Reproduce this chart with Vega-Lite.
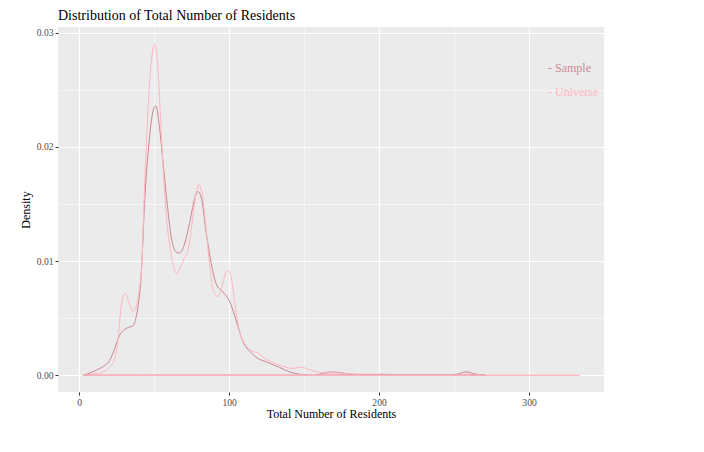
{
  "$schema": "https://vega.github.io/schema/vega-lite/v6.json",
  "width": 546,
  "height": 365,
  "autosize": {"type": "none"},
  "padding": {"left": 58, "top": 27, "right": 100, "bottom": 60},
  "background": "white",
  "title": {
    "text": "Distribution of Total Number of Residents",
    "anchor": "start",
    "frame": "group",
    "font": "Liberation Serif",
    "fontSize": 14,
    "fontWeight": "normal",
    "color": "#000000",
    "baseline": "bottom",
    "offset": -10
  },
  "data": {
    "values": [
      {"series": "Sample", "x": 2.5, "density": 0.0},
      {"series": "Sample", "x": 9.1, "density": 0.0003},
      {"series": "Sample", "x": 13.6, "density": 0.0006},
      {"series": "Sample", "x": 16.5, "density": 0.0008},
      {"series": "Sample", "x": 20.3, "density": 0.0013},
      {"series": "Sample", "x": 23.6, "density": 0.0023},
      {"series": "Sample", "x": 27.0, "density": 0.0035},
      {"series": "Sample", "x": 30.2, "density": 0.004},
      {"series": "Sample", "x": 33.0, "density": 0.0042},
      {"series": "Sample", "x": 35.5, "density": 0.0043},
      {"series": "Sample", "x": 37.2, "density": 0.0047},
      {"series": "Sample", "x": 39.1, "density": 0.0059},
      {"series": "Sample", "x": 41.4, "density": 0.0088},
      {"series": "Sample", "x": 43.6, "density": 0.015},
      {"series": "Sample", "x": 46.9, "density": 0.0208},
      {"series": "Sample", "x": 49.6, "density": 0.0233},
      {"series": "Sample", "x": 51.2, "density": 0.0236},
      {"series": "Sample", "x": 53.6, "density": 0.0217},
      {"series": "Sample", "x": 55.8, "density": 0.0188},
      {"series": "Sample", "x": 58.5, "density": 0.0153},
      {"series": "Sample", "x": 61.4, "density": 0.0121},
      {"series": "Sample", "x": 64.7, "density": 0.0108},
      {"series": "Sample", "x": 66.9, "density": 0.0107},
      {"series": "Sample", "x": 70.3, "density": 0.0115},
      {"series": "Sample", "x": 73.6, "density": 0.0133},
      {"series": "Sample", "x": 76.9, "density": 0.0154},
      {"series": "Sample", "x": 79.1, "density": 0.0161},
      {"series": "Sample", "x": 81.4, "density": 0.0156},
      {"series": "Sample", "x": 84.5, "density": 0.0127},
      {"series": "Sample", "x": 88.1, "density": 0.0098},
      {"series": "Sample", "x": 91.4, "density": 0.008},
      {"series": "Sample", "x": 95.8, "density": 0.0073},
      {"series": "Sample", "x": 100.3, "density": 0.0065},
      {"series": "Sample", "x": 104.7, "density": 0.0048},
      {"series": "Sample", "x": 109.1, "density": 0.003},
      {"series": "Sample", "x": 114.5, "density": 0.002},
      {"series": "Sample", "x": 120.3, "density": 0.0014},
      {"series": "Sample", "x": 124.5, "density": 0.0012},
      {"series": "Sample", "x": 128.0, "density": 0.001},
      {"series": "Sample", "x": 133.6, "density": 0.0007},
      {"series": "Sample", "x": 140.3, "density": 0.0003},
      {"series": "Sample", "x": 146.9, "density": 0.0001},
      {"series": "Sample", "x": 155.8, "density": 0.0},
      {"series": "Sample", "x": 163.6, "density": 0.0002},
      {"series": "Sample", "x": 169.1, "density": 0.0003},
      {"series": "Sample", "x": 175.8, "density": 0.0002},
      {"series": "Sample", "x": 184.7, "density": 0.0},
      {"series": "Sample", "x": 195.8, "density": 0.0},
      {"series": "Sample", "x": 202.2, "density": 0.0001},
      {"series": "Sample", "x": 213.6, "density": 0.0},
      {"series": "Sample", "x": 246.9, "density": 0.0},
      {"series": "Sample", "x": 252.0, "density": 0.0001},
      {"series": "Sample", "x": 258.0, "density": 0.0003},
      {"series": "Sample", "x": 264.7, "density": 0.0001},
      {"series": "Sample", "x": 271.3, "density": 0.0},
      {"series": "Universe", "x": 2.5, "density": 0.0},
      {"series": "Universe", "x": 9.0, "density": 0.0001},
      {"series": "Universe", "x": 13.6, "density": 0.0002},
      {"series": "Universe", "x": 17.5, "density": 0.0004},
      {"series": "Universe", "x": 20.3, "density": 0.0007},
      {"series": "Universe", "x": 23.6, "density": 0.0014},
      {"series": "Universe", "x": 25.8, "density": 0.003},
      {"series": "Universe", "x": 27.5, "density": 0.0054},
      {"series": "Universe", "x": 29.1, "density": 0.0068},
      {"series": "Universe", "x": 31.0, "density": 0.0072},
      {"series": "Universe", "x": 33.6, "density": 0.0062},
      {"series": "Universe", "x": 35.8, "density": 0.0056},
      {"series": "Universe", "x": 38.0, "density": 0.006},
      {"series": "Universe", "x": 40.0, "density": 0.0074},
      {"series": "Universe", "x": 41.8, "density": 0.0098},
      {"series": "Universe", "x": 43.6, "density": 0.0165},
      {"series": "Universe", "x": 45.8, "density": 0.0229},
      {"series": "Universe", "x": 48.0, "density": 0.0273},
      {"series": "Universe", "x": 50.3, "density": 0.029},
      {"series": "Universe", "x": 52.5, "density": 0.027},
      {"series": "Universe", "x": 54.7, "density": 0.0214},
      {"series": "Universe", "x": 56.9, "density": 0.0162},
      {"series": "Universe", "x": 59.1, "density": 0.0127},
      {"series": "Universe", "x": 62.5, "density": 0.0098},
      {"series": "Universe", "x": 65.1, "density": 0.0089},
      {"series": "Universe", "x": 68.1, "density": 0.0096},
      {"series": "Universe", "x": 70.3, "density": 0.0103},
      {"series": "Universe", "x": 72.5, "density": 0.0109},
      {"series": "Universe", "x": 74.7, "density": 0.0127},
      {"series": "Universe", "x": 76.9, "density": 0.015},
      {"series": "Universe", "x": 79.8, "density": 0.0167},
      {"series": "Universe", "x": 82.0, "density": 0.0159},
      {"series": "Universe", "x": 84.3, "density": 0.0133},
      {"series": "Universe", "x": 86.9, "density": 0.0098},
      {"series": "Universe", "x": 89.6, "density": 0.0074},
      {"series": "Universe", "x": 92.5, "density": 0.0069},
      {"series": "Universe", "x": 95.1, "density": 0.0077},
      {"series": "Universe", "x": 97.6, "density": 0.0089},
      {"series": "Universe", "x": 99.6, "density": 0.0092},
      {"series": "Universe", "x": 101.8, "density": 0.0083},
      {"series": "Universe", "x": 104.1, "density": 0.006},
      {"series": "Universe", "x": 106.9, "density": 0.0039},
      {"series": "Universe", "x": 111.3, "density": 0.0026},
      {"series": "Universe", "x": 115.8, "density": 0.0021},
      {"series": "Universe", "x": 118.5, "density": 0.002},
      {"series": "Universe", "x": 122.5, "density": 0.0016},
      {"series": "Universe", "x": 128.0, "density": 0.0012},
      {"series": "Universe", "x": 133.6, "density": 0.0009},
      {"series": "Universe", "x": 138.0, "density": 0.0007},
      {"series": "Universe", "x": 142.5, "density": 0.0006},
      {"series": "Universe", "x": 148.0, "density": 0.0007},
      {"series": "Universe", "x": 155.8, "density": 0.0004},
      {"series": "Universe", "x": 164.7, "density": 0.0002},
      {"series": "Universe", "x": 173.6, "density": 0.0002},
      {"series": "Universe", "x": 186.9, "density": 0.0001},
      {"series": "Universe", "x": 200.0, "density": 0.0001},
      {"series": "Universe", "x": 213.6, "density": 0.0},
      {"series": "Universe", "x": 250.0, "density": 0.0},
      {"series": "Universe", "x": 260.0, "density": 0.0001},
      {"series": "Universe", "x": 270.0, "density": 0.0},
      {"series": "Universe", "x": 300.0, "density": 0.0},
      {"series": "Universe", "x": 333.6, "density": 0.0}
    ]
  },
  "encoding": {
    "x": {
      "field": "x",
      "type": "quantitative",
      "title": "Total Number of Residents",
      "scale": {"domain": [-14.1, 350], "nice": false, "zero": false},
      "axis": {
        "values": [0, 50, 100, 150, 200, 250, 300],
        "labelExpr": "datum.value % 100 === 0 ? datum.label : ''",
        "gridWidth": {"condition": {"test": "datum.value % 100 !== 0", "value": 0.5}, "value": 1.1},
        "tickOpacity": {"condition": {"test": "datum.value % 100 !== 0", "value": 0}, "value": 1},
        "format": "d"
      }
    },
    "y": {
      "field": "density",
      "type": "quantitative",
      "title": "Density",
      "scale": {"domain": [-0.00146, 0.0305], "nice": false, "zero": false},
      "axis": {
        "values": [0, 0.005, 0.01, 0.015, 0.02, 0.025, 0.03],
        "format": ".2f",
        "labelExpr": "round(datum.value * 1000) % 10 === 0 ? datum.label : ''",
        "gridWidth": {"condition": {"test": "round(datum.value * 1000) % 10 !== 0", "value": 0.5}, "value": 1.1},
        "tickOpacity": {"condition": {"test": "round(datum.value * 1000) % 10 !== 0", "value": 0}, "value": 1}
      }
    },
    "color": {
      "field": "series",
      "type": "nominal",
      "scale": {"domain": ["Sample", "Universe"], "range": ["#c98592", "#ffb6c1"]},
      "legend": {
        "orient": "none",
        "legendX": 478,
        "legendY": 35,
        "title": null,
        "labelExpr": "'- ' + datum.label",
        "symbolOpacity": 0,
        "symbolSize": 0,
        "symbolStrokeWidth": 0,
        "labelOffset": 0,
        "labelFont": "Liberation Serif",
        "labelFontSize": 12,
        "rowPadding": 12,
        "padding": 0,
        "encode": {
          "labels": {
            "update": {
              "fill": {"signal": "datum.value === 'Sample' ? '#cd8c95' : '#ffb6c1'"}
            }
          }
        }
      }
    }
  },
  "layer": [
    {
      "mark": {"type": "line", "strokeWidth": 1, "interpolate": "monotone"}
    },
    {
      "mark": {"type": "rule", "strokeWidth": 1},
      "encoding": {
        "x": {"aggregate": "min", "field": "x", "type": "quantitative"},
        "x2": {"aggregate": "max", "field": "x"},
        "y": {"datum": 0, "type": "quantitative"},
        "color": {"field": "series", "type": "nominal"}
      }
    }
  ],
  "config": {
    "view": {"fill": "#ebebeb", "stroke": null},
    "axis": {
      "domain": false,
      "grid": true,
      "gridColor": "#ffffff",
      "tickColor": "#333333",
      "tickSize": 3,
      "tickWidth": 1,
      "labelColor": "#4d4d4d",
      "labelFont": "Liberation Serif",
      "labelFontSize": 9.6,
      "labelPadding": 2,
      "titleFont": "Liberation Serif",
      "titleFontSize": 12,
      "titleFontWeight": "normal",
      "titleColor": "#000000"
    },
    "axisX": {"titlePadding": 2},
    "axisY": {"titlePadding": 4}
  }
}
